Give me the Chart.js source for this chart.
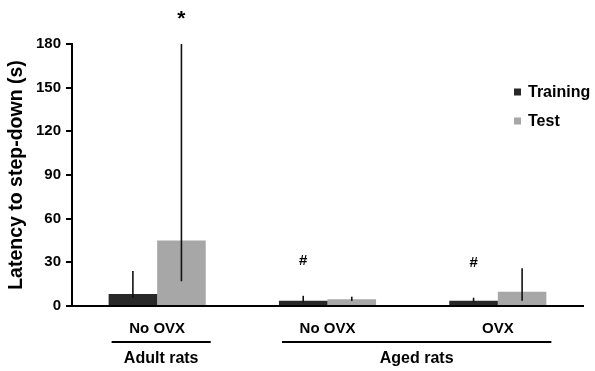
<!DOCTYPE html>
<html>
<head>
<meta charset="utf-8">
<script src="https://cdn.jsdelivr.net/npm/chart.js@4.4.1/dist/chart.umd.min.js"></script>
<style>
  html, body { margin: 0; padding: 0; background: #fff; }
  #wrap { width: 595px; height: 371px; }
</style>
</head>
<body>
<div id="wrap"><canvas id="myChart" width="595" height="371"></canvas></div>
<script>
// chart data
const categories = ['No OVX', 'No OVX', 'OVX'];
const seriesNames = ['Training', 'Test'];
const trainingValues = [8.2, 3.6, 3.6];
const testValues = [45, 4.6, 9.8];
// error bar ends (low / high)
const trainingErrLow = [5.5, 2.5, 2.5];
const trainingErrHigh = [24, 7, 5.7];
const testErrLow = [17, 3.5, 3.6];
const testErrHigh = [180, 6.4, 25.9];
// significance marks over each bar
const trainingMarks = ['', '#', '#'];
const testMarks = ['*', '', ''];
// group labels under the axis (first and last category index)
const groupNames = ['Adult rats', 'Aged rats'];
const groupFirst = [0, 1];
const groupLast = [0, 2];
// y axis ticks
const yMin = 0;
const yMax = 180;
const yStep = 30;

const FONT = "'Liberation Sans', Arial, sans-serif";
const errLow = [trainingErrLow, testErrLow];
const errHigh = [trainingErrHigh, testErrHigh];
const marks = [trainingMarks, testMarks];

// draws error bars, marks, group labels and legend
const extras = {
    id: 'extras',
    afterDatasetsDraw(chart) {
        const ctx = chart.ctx;
        const y = chart.scales.y;
        ctx.save();
        ctx.strokeStyle = '#111';
        ctx.lineWidth = 1.6;
        chart.data.datasets.forEach((ds, i) => {
            const meta = chart.getDatasetMeta(i);
            meta.data.forEach((bar, j) => {
                ctx.beginPath();
                ctx.moveTo(bar.x, y.getPixelForValue(errLow[i][j]));
                ctx.lineTo(bar.x, y.getPixelForValue(errHigh[i][j]));
                ctx.stroke();
            });
        });
        ctx.restore();
    },
    afterDraw(chart) {
        const ctx = chart.ctx;
        const y = chart.scales.y;
        ctx.save();
        ctx.fillStyle = '#000';
        ctx.textAlign = 'center';

        // marks (* and #)
        chart.data.datasets.forEach((ds, i) => {
            const meta = chart.getDatasetMeta(i);
            meta.data.forEach((bar, j) => {
                const t = marks[i][j];
                if (!t) return;
                ctx.font = (t === '*' ? 'bold 21px ' : 'bold 15px ') + FONT;
                const m = ctx.measureText(t);
                const mid = y.getPixelForValue(errHigh[i][j]) - (t === '*' ? 29 : 36);
                ctx.textBaseline = 'alphabetic';
                ctx.fillText(t, bar.x, mid + (m.actualBoundingBoxAscent - m.actualBoundingBoxDescent) / 2);
            });
        });

        // group underline + names
        const m0 = chart.getDatasetMeta(0);
        const m1 = chart.getDatasetMeta(1);
        groupNames.forEach((name, g) => {
            const b0 = m0.data[groupFirst[g]];
            const b1 = m1.data[groupLast[g]];
            const left = b0.x - b0.width / 2 + 3;
            const right = b1.x + b1.width / 2 + 5;
            ctx.strokeStyle = '#000';
            ctx.lineWidth = 2;
            ctx.beginPath();
            ctx.moveTo(left, 342);
            ctx.lineTo(right, 342);
            ctx.stroke();
            ctx.font = 'bold 16px ' + FONT;
            ctx.textBaseline = 'middle';
            ctx.fillText(name, (left + right) / 2, 359);
        });

        // legend inside plot, top right
        ctx.textAlign = 'left';
        ctx.textBaseline = 'middle';
        ctx.font = 'bold 16px ' + FONT;
        chart.data.datasets.forEach((ds, i) => {
            const cy = 92 + i * 29;
            ctx.fillStyle = ds.backgroundColor;
            ctx.fillRect(514, cy - 3.5, 7, 7);
            ctx.fillStyle = '#000';
            ctx.fillText(ds.label, 528, cy + 1);
        });
        ctx.restore();
    }
};

const ctx = document.getElementById('myChart').getContext('2d');
const myChart = new Chart(ctx, {
    type: 'bar',
    data: {
        labels: categories,
        datasets: [{
            label: seriesNames[0],
            data: trainingValues,
            backgroundColor: '#282828',
            categoryPercentage: 0.57,
            barPercentage: 1
        }, {
            label: seriesNames[1],
            data: testValues,
            backgroundColor: '#a7a7a7',
            categoryPercentage: 0.57,
            barPercentage: 1
        }]
    },
    options: {
        responsive: false,
        animation: false,
        layout: { padding: { left: 3, top: 44, right: 12, bottom: 0 } },
        plugins: {
            legend: { display: false },
            tooltip: { enabled: false }
        },
        scales: {
            x: {
                grid: { display: false },
                border: { display: true, color: '#000', width: 2 },
                ticks: { color: '#000', font: { family: FONT, size: 15, weight: 'bold' }, padding: 6 },
                afterFit(scale) { scale.height = 65; }
            },
            y: {
                min: yMin,
                max: yMax,
                ticks: { stepSize: yStep, color: '#000', font: { family: FONT, size: 15, weight: 'bold' }, padding: 5 },
                grid: { drawOnChartArea: false, tickLength: 6, color: '#000', lineWidth: 2 },
                border: { display: true, color: '#000', width: 2 },
                title: {
                    display: true,
                    text: 'Latency to step-down (s)',
                    color: '#000',
                    font: { family: FONT, size: 19.5, weight: 'bold' },
                    padding: 2
                },
                afterFit(scale) { scale.width = 69; }
            }
        }
    },
    plugins: [extras]
});
</script>
</body>
</html>
